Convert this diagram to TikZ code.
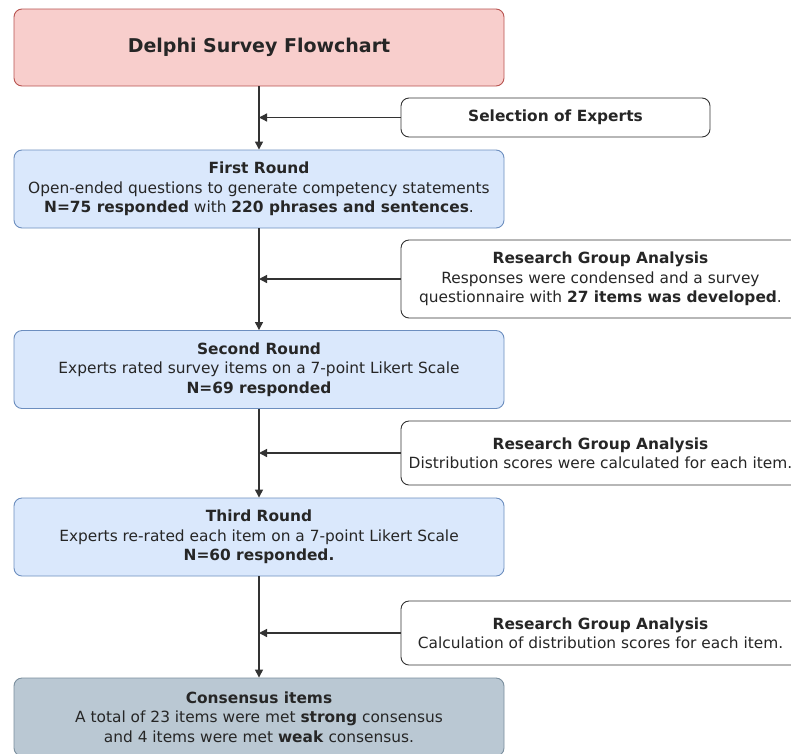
\documentclass[tikz,border=0pt]{standalone}
\usepackage{fontspec}
\setmainfont{DejaVu Sans}
\usetikzlibrary{arrows.meta}
\definecolor{pinkfill}{HTML}{F8CECC}
\definecolor{pinkline}{HTML}{B85450}
\definecolor{bluefill}{HTML}{DAE8FC}
\definecolor{blueline}{HTML}{6C8EBF}
\definecolor{greyfill}{HTML}{BAC8D3}
\definecolor{greyline}{HTML}{23445D}
\definecolor{txt}{HTML}{262626}
\definecolor{linec}{HTML}{333333}
\tikzset{
  box/.style={rounded corners=8pt, line width=0.9pt, align=center, inner sep=0pt,
    font=\fontsize{15.4}{19.5}\selectfont, text=txt},
  titlebox/.style={box, fill=pinkfill, draw=pinkline, minimum width=490, minimum height=77,
    font=\fontsize{19}{23}\selectfont\bfseries},
  roundbox/.style={box, fill=bluefill, draw=blueline, minimum width=490, minimum height=78},
  finalbox/.style={box, fill=greyfill, draw=greyline!60, minimum width=490, minimum height=78},
  sidebox/.style={box, fill=white, draw=linec, minimum width=399},
  flow/.style={draw=linec, line width=1.3pt, -{Triangle[length=8pt,width=8pt]}},
}
\begin{document}
\begin{tikzpicture}[x=1pt,y=-1pt]
\useasboundingbox (0,0) rectangle (791,753);
\clip (0,0) rectangle (791,753);
\fill[white] (0,0) rectangle (791,753);

\node[titlebox] (title) at (259,47.5) {Delphi Survey Flowchart};
\node[box, fill=white, draw=linec, minimum width=309, minimum height=39, font=\fontsize{15.4}{19.5}\selectfont\bfseries] (sel) at (555.5,117.5) {Selection of Experts};

\node[roundbox] (r1) at (259,189) {\textbf{First Round}\\Open-ended questions to generate competency statements\\\textbf{N=75 responded} with \textbf{220 phrases and sentences}.};

\node[sidebox, minimum height=78] (g1) at (600.5,279) {\textbf{Research Group Analysis}\\Responses were condensed and a survey\\questionnaire with \textbf{27 items was developed}.};

\node[roundbox] (r2) at (259,369.5) {\textbf{Second Round}\\Experts rated survey items on a 7-point Likert Scale\\\textbf{N=69 responded}};

\node[sidebox, minimum height=64] (g2) at (600.5,453) {\textbf{Research Group Analysis}\\Distribution scores were calculated for each item.};

\node[roundbox] (r3) at (259,537) {\textbf{Third Round}\\Experts re-rated each item on a 7-point Likert Scale\\\textbf{N=60 responded.}};

\node[sidebox, minimum height=64] (g3) at (600.5,633) {\textbf{Research Group Analysis}\\Calculation of distribution scores for each item.};

\node[finalbox] (fin) at (259,717) {\textbf{Consensus items}\\A total of 23 items were met \textbf{strong} consensus\\and 4 items were met \textbf{weak} consensus.};

\draw[flow] (title) -- (r1);
\draw[flow] (r1) -- (r2);
\draw[flow] (r2) -- (r3);
\draw[flow] (r3) -- (fin);
\draw[flow] (sel.west) -- (sel.west -| title.south);
\draw[flow] (g1.west) -- (g1.west -| r1.south);
\draw[flow] (g2.west) -- (g2.west -| r2.south);
\draw[flow] (g3.west) -- (g3.west -| r3.south);
\end{tikzpicture}
\end{document}
